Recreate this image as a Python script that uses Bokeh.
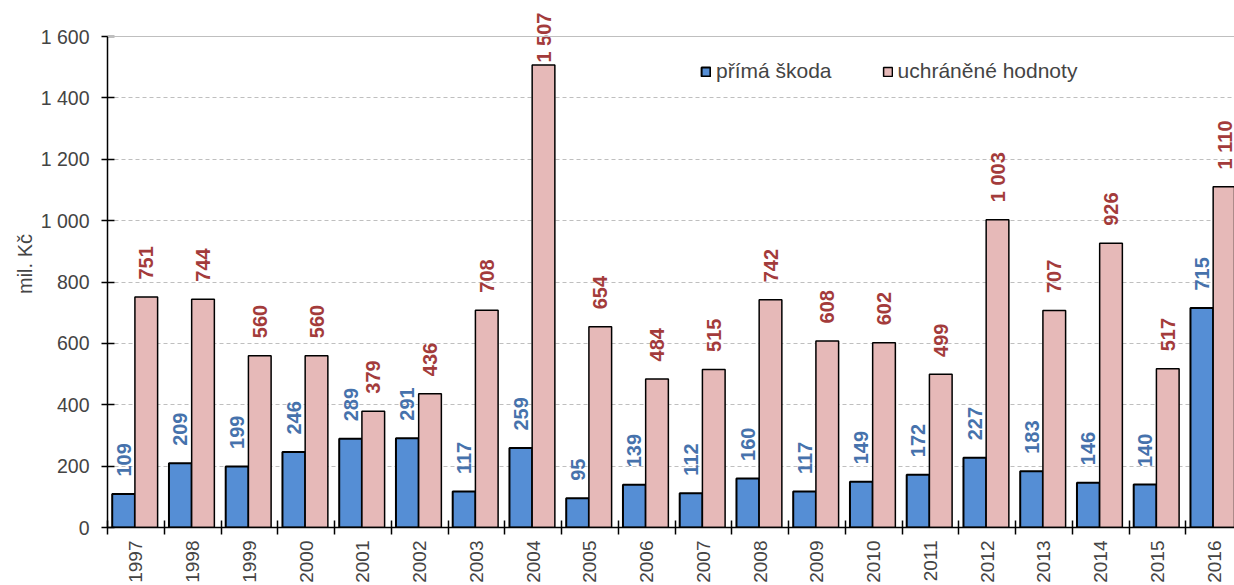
import math
from bokeh.plotting import figure
from bokeh.models import (Range1d, FixedTicker, Span, Legend, LegendItem, ColumnDataSource, LinearAxis)
from bokeh.core.properties import value
from bokeh.embed import file_html
from bokeh.resources import INLINE

# ---- data ----
years = ["1997", "1998", "1999", "2000", "2001", "2002", "2003", "2004", "2005", "2006",
         "2007", "2008", "2009", "2010", "2011", "2012", "2013", "2014", "2015", "2016"]
prima_skoda = [109, 209, 199, 246, 289, 291, 117, 259, 95, 139,
               112, 160, 117, 149, 172, 227, 183, 146, 140, 715]
uchranene = [751, 744, 560, 560, 379, 436, 708, 1507, 654, 484,
             515, 742, 608, 602, 499, 1003, 707, 926, 517, 1110]
y_ticks = [0, 200, 400, 600, 800, 1000, 1200, 1400, 1600]
series_names = ["přímá škoda", "uchráněné hodnoty"]
y_title = "mil. Kč"

# ---- style ----
FONT = "Liberation Sans"
FS = "19.5px"
BLUE = "#558ED5"
PINK = "#E6B9B8"
BLUE_TXT = "#4672AC"
RED_TXT = "#A33B3B"
LABEL_GAP = 57      # data units between bar top and label
LABEL_MAX = 1515    # labels pushed inside chart area

def fmt(v):
    return f"{v:,}".replace(",", " ")

idx = list(range(len(years)))
x_blue = [i - 0.217 for i in idx]
x_pink = [i + 0.183 for i in idx]

src_b = ColumnDataSource(dict(x=x_blue, top=prima_skoda,
                              ly=[min(v + LABEL_GAP, LABEL_MAX) for v in prima_skoda],
                              txt=[fmt(v) for v in prima_skoda]))
src_p = ColumnDataSource(dict(x=x_pink, top=uchranene,
                              ly=[min(v + LABEL_GAP, LABEL_MAX) for v in uchranene],
                              txt=[fmt(v) for v in uchranene]))

p = figure(width=1234, height=585, output_backend="svg", toolbar_location=None,
           x_range=Range1d(-0.5, 19.359), y_range=Range1d(0, 1600 * 527 / 491),
           min_border_left=107, min_border_right=0, min_border_top=0, min_border_bottom=57)
p.outline_line_color = None
p.background_fill_color = "white"
p.border_fill_color = "white"

rb = p.vbar(x="x", top="top", width=0.4, source=src_b, fill_color=BLUE,
            line_color="black", line_width=2)
rp = p.vbar(x="x", top="top", width=0.4, source=src_p, fill_color=PINK,
            line_color="black", line_width=1.5)

p.text(x="x", y="ly", text="txt", source=src_b, angle=math.pi / 2,
       text_align="left", text_baseline="middle", text_color=BLUE_TXT,
       text_font=value(FONT), text_font_style="bold", text_font_size="20px")
p.text(x="x", y="ly", text="txt", source=src_p, angle=math.pi / 2,
       text_align="left", text_baseline="middle", text_color=RED_TXT,
       text_font=value(FONT), text_font_style="bold", text_font_size="20px")

# y axis
p.yaxis.ticker = FixedTicker(ticks=y_ticks, minor_ticks=[])
p.yaxis.bounds = (0, 1600)
p.yaxis.major_label_overrides = {v: fmt(v) for v in y_ticks}
p.yaxis.major_label_text_font = FONT
p.yaxis.major_label_text_font_size = FS
p.yaxis.major_label_standoff = 12
p.yaxis.major_tick_in = 7
p.yaxis.major_tick_out = 6
p.yaxis.major_tick_line_color = "black"
p.yaxis.major_tick_line_width = 1.5
p.yaxis.axis_line_color = "black"
p.yaxis.axis_line_width = 1.5

# y axis title on a bare helper axis, centred a little below the main axis centre
title_axis = LinearAxis(ticker=FixedTicker(ticks=[], minor_ticks=[]), bounds=(0, 1500),
                        axis_line_color=None, major_tick_line_color=None,
                        minor_tick_line_color=None, axis_label=y_title,
                        axis_label_text_font=FONT, axis_label_text_font_size="20px",
                        axis_label_text_font_style="normal", axis_label_standoff=2)
p.add_layout(title_axis, "left")

# x axis
p.xaxis.ticker = FixedTicker(ticks=idx, minor_ticks=[i - 0.5 for i in idx])
p.xaxis.major_label_overrides = {i: y for i, y in zip(idx, years)}
p.xaxis.major_label_orientation = math.pi / 2
p.xaxis.major_label_text_font = FONT
p.xaxis.major_label_text_font_size = "19px"
p.xaxis.major_label_standoff = 6
p.xaxis.major_tick_line_color = None
p.xaxis.major_tick_out = 0
p.xaxis.major_tick_in = 0
p.xaxis.minor_tick_in = 7
p.xaxis.minor_tick_out = 7
p.xaxis.minor_tick_line_color = "black"
p.xaxis.minor_tick_line_width = 1.5
p.xaxis.axis_line_color = "black"
p.xaxis.axis_line_width = 1.5

# grid
p.xgrid.grid_line_color = None
p.ygrid.grid_line_color = "#BFBFBF"
p.ygrid.grid_line_dash = "4 3"
p.ygrid.grid_line_width = 1
p.add_layout(Span(location=1600, dimension="width", line_color="#BFBFBF", line_width=1))

legend = Legend(items=[LegendItem(label=series_names[0], renderers=[rb]),
                       LegendItem(label=series_names[1], renderers=[rp])],
                orientation="horizontal", location=(593, 444),
                padding=0, margin=0, spacing=50, glyph_width=11, glyph_height=11,
                label_standoff=5, border_line_color=None, background_fill_alpha=0,
                label_text_font=FONT, label_text_font_size="21px")
p.add_layout(legend)

open("out.html", "w").write(file_html(p, INLINE))
